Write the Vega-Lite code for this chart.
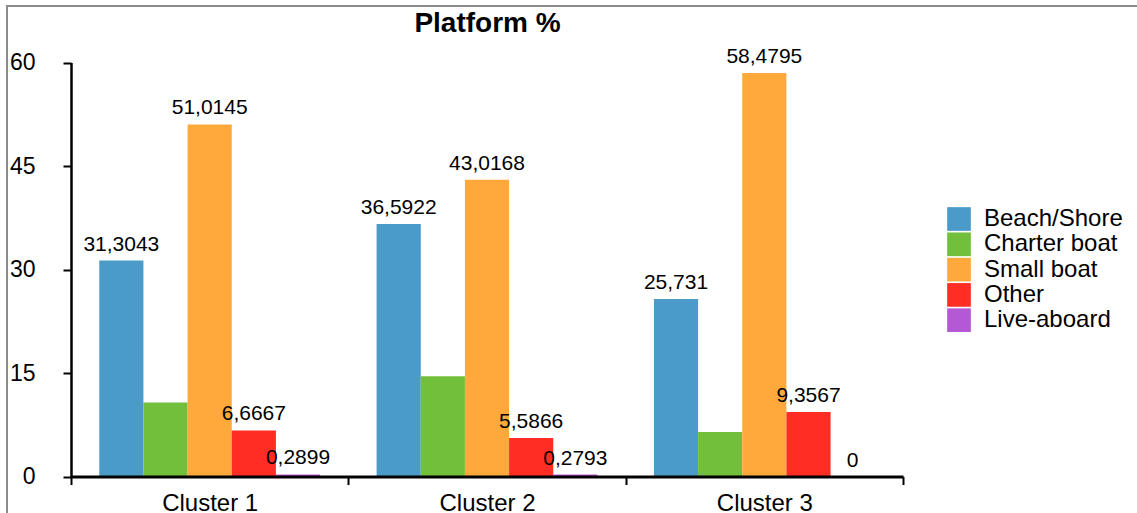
{
  "$schema": "https://vega.github.io/schema/vega-lite/v6.json",
  "width": 1135,
  "height": 512,
  "autosize": {"type": "none"},
  "padding": {"left": 7, "top": 6, "right": -5, "bottom": -5},
  "background": "white",
  "config": {
    "font": "Liberation Sans",
    "locale": {"number": {"decimal": ",", "thousands": ".", "grouping": [3], "currency": ["", ""]}},
    "view": {"stroke": "#8c8c8c", "strokeWidth": 2},
    "axis": {"grid": false, "title": null}
  },
  "title": {
    "text": "Platform %",
    "font": "Liberation Sans",
    "fontSize": 28,
    "fontWeight": "bold",
    "color": "black",
    "anchor": "middle",
    "frame": "group",
    "dx": -87,
    "baseline": "alphabetic",
    "offset": -54
  },
  "data": {
    "values": [
      {"Cluster": "Cluster 1", "Platform": "Beach/Shore", "Percent": 31.3043},
      {"Cluster": "Cluster 1", "Platform": "Charter boat", "Percent": 10.7246},
      {"Cluster": "Cluster 1", "Platform": "Small boat", "Percent": 51.0145},
      {"Cluster": "Cluster 1", "Platform": "Other", "Percent": 6.6667},
      {"Cluster": "Cluster 1", "Platform": "Live-aboard", "Percent": 0.2899},
      {"Cluster": "Cluster 2", "Platform": "Beach/Shore", "Percent": 36.5922},
      {"Cluster": "Cluster 2", "Platform": "Charter boat", "Percent": 14.5251},
      {"Cluster": "Cluster 2", "Platform": "Small boat", "Percent": 43.0168},
      {"Cluster": "Cluster 2", "Platform": "Other", "Percent": 5.5866},
      {"Cluster": "Cluster 2", "Platform": "Live-aboard", "Percent": 0.2793},
      {"Cluster": "Cluster 3", "Platform": "Beach/Shore", "Percent": 25.731},
      {"Cluster": "Cluster 3", "Platform": "Charter boat", "Percent": 6.4328},
      {"Cluster": "Cluster 3", "Platform": "Small boat", "Percent": 58.4795},
      {"Cluster": "Cluster 3", "Platform": "Other", "Percent": 9.3567},
      {"Cluster": "Cluster 3", "Platform": "Live-aboard", "Percent": 0}
    ]
  },
  "encoding": {
    "x": {
      "field": "Cluster",
      "type": "nominal",
      "scale": {"range": [64, 896], "paddingInner": 0, "paddingOuter": 0},
      "axis": {
        "orient": "bottom",
        "offset": -41.5,
        "zindex": 1,
        "tickBand": "extent",
        "labelAngle": 0,
        "labelFont": "Liberation Sans",
        "labelFontSize": 24,
        "labelColor": "black",
        "labelPadding": 7,
        "domainColor": "black",
        "domainWidth": 3,
        "tickColor": "black",
        "tickWidth": 2,
        "tickSize": 8
      }
    },
    "xOffset": {
      "field": "Platform",
      "type": "nominal",
      "sort": ["Beach/Shore", "Charter boat", "Small boat", "Other", "Live-aboard"],
      "scale": {"paddingInner": 0, "paddingOuter": 0.64}
    },
    "y": {
      "field": "Percent",
      "type": "quantitative",
      "scale": {"domain": [0, 60], "range": [470.5, 56.5], "nice": false},
      "axis": {
        "orient": "left",
        "offset": -64,
        "values": [0, 15, 30, 45, 60],
        "format": "d",
        "labelFont": "Liberation Sans",
        "labelFontSize": 23,
        "labelColor": "black",
        "labelPadding": 28,
        "domainColor": "black",
        "domainWidth": 2.5,
        "tickColor": "black",
        "tickWidth": 2,
        "tickSize": 8
      }
    }
  },
  "layer": [
    {
      "mark": {"type": "bar"},
      "encoding": {
        "color": {
          "field": "Platform",
          "type": "nominal",
          "sort": ["Beach/Shore", "Charter boat", "Small boat", "Other", "Live-aboard"],
          "scale": {
            "domain": ["Beach/Shore", "Charter boat", "Small boat", "Other", "Live-aboard"],
            "range": ["#4a9bc9", "#71bf3a", "#ffa83c", "#ff2d24", "#b558d5"]
          },
          "legend": {
            "title": null,
            "orient": "none",
            "legendX": 940,
            "legendY": 201,
            "symbolType": "square",
            "symbolSize": 560,
            "symbolStrokeWidth": 0,
            "symbolOpacity": 1,
            "labelFont": "Liberation Sans",
            "labelFontSize": 24,
            "labelColor": "black",
            "labelOffset": 13,
            "labelLimit": 400,
            "rowPadding": 1.3,
            "padding": 0
          }
        }
      }
    },
    {
      "transform": [{"filter": "datum.Platform !== 'Charter boat'"}],
      "mark": {
        "type": "text",
        "baseline": "alphabetic",
        "dy": -10,
        "font": "Liberation Sans",
        "fontSize": 21,
        "color": "black"
      },
      "encoding": {
        "text": {"field": "Percent", "type": "quantitative", "format": ".6~r"}
      }
    }
  ]
}
